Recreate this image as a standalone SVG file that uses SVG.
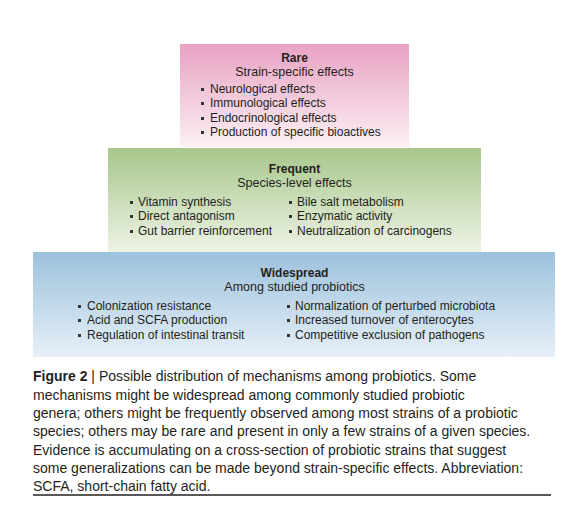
<svg xmlns="http://www.w3.org/2000/svg" width="581" height="524" viewBox="0 0 581 524">
<defs>
<linearGradient id="gPink" x1="0" y1="0" x2="0" y2="1"><stop offset="0" stop-color="#e8a2c2"/><stop offset="1" stop-color="#fcf0f5"/></linearGradient>
<linearGradient id="gGreen" x1="0" y1="0" x2="0" y2="1"><stop offset="0" stop-color="#a7c78c"/><stop offset="1" stop-color="#eef3e5"/></linearGradient>
<linearGradient id="gBlue" x1="0" y1="0" x2="0" y2="1"><stop offset="0" stop-color="#9cc1dc"/><stop offset="1" stop-color="#e7f0f8"/></linearGradient>
</defs>
<style>
text{font-family:"Liberation Sans",Arial,sans-serif;fill:#231f20;}
.t{font-size:12px;font-weight:bold;text-anchor:middle;}
.s{font-size:12.5px;text-anchor:middle;}
.b{font-size:12px;}
.c{font-size:14px;}
.bl{fill:#333;}
</style>
<rect width="581" height="524" fill="#fff"/>
<g id="rare">
<rect x="180" y="44" width="229" height="103" fill="url(#gPink)"/>
<text class="t" x="294.5" y="62">Rare</text>
<text class="s" x="294.5" y="76">Strain-specific effects</text>
<rect class="bl" x="201" y="88" width="3" height="3"/><text class="b" x="210" y="93">Neurological effects</text>
<rect class="bl" x="201" y="102" width="3" height="3"/><text class="b" x="210" y="107">Immunological effects</text>
<rect class="bl" x="201" y="117" width="3" height="3"/><text class="b" x="210" y="122">Endocrinological effects</text>
<rect class="bl" x="201" y="131" width="3" height="3"/><text class="b" x="210" y="136">Production of specific bioactives</text>
</g>
<g id="frequent">
<rect x="108" y="148" width="373" height="104" fill="url(#gGreen)"/>
<text class="t" x="294.5" y="173">Frequent</text>
<text class="s" x="294.5" y="187">Species-level effects</text>
<rect class="bl" x="130" y="201" width="3" height="3"/><text class="b" x="138" y="206">Vitamin synthesis</text>
<rect class="bl" x="130" y="215" width="3" height="3"/><text class="b" x="138" y="220">Direct antagonism</text>
<rect class="bl" x="130" y="230" width="3" height="3"/><text class="b" x="138" y="235">Gut barrier reinforcement</text>
<rect class="bl" x="289" y="201" width="3" height="3"/><text class="b" x="297" y="206">Bile salt metabolism</text>
<rect class="bl" x="289" y="215" width="3" height="3"/><text class="b" x="297" y="220">Enzymatic activity</text>
<rect class="bl" x="289" y="230" width="3" height="3"/><text class="b" x="297" y="235">Neutralization of carcinogens</text>
</g>
<g id="widespread">
<rect x="33" y="252" width="522" height="105" fill="url(#gBlue)"/>
<text class="t" x="294.5" y="277">Widespread</text>
<text class="s" x="294.5" y="291">Among studied probiotics</text>
<rect class="bl" x="78" y="305" width="3" height="3"/><text class="b" x="87" y="310">Colonization resistance</text>
<rect class="bl" x="78" y="319" width="3" height="3"/><text class="b" x="87" y="324">Acid and SCFA production</text>
<rect class="bl" x="78" y="334" width="3" height="3"/><text class="b" x="87" y="339">Regulation of intestinal transit</text>
<rect class="bl" x="287" y="305" width="3" height="3"/><text class="b" x="295" y="310">Normalization of perturbed microbiota</text>
<rect class="bl" x="287" y="319" width="3" height="3"/><text class="b" x="295" y="324">Increased turnover of enterocytes</text>
<rect class="bl" x="287" y="334" width="3" height="3"/><text class="b" x="295" y="339">Competitive exclusion of pathogens</text>
</g>
<g id="caption">
<text class="c" x="33" y="381"><tspan font-weight="bold">Figure 2</tspan> | Possible distribution of mechanisms among probiotics. Some</text>
<text class="c" x="33" y="399.5">mechanisms might be widespread among commonly studied probiotic</text>
<text class="c" x="33" y="418">genera; others might be frequently observed among most strains of a probiotic</text>
<text class="c" x="33" y="436">species; others may be rare and present in only a few strains of a given species.</text>
<text class="c" x="33" y="454.5">Evidence is accumulating on a cross-section of probiotic strains that suggest</text>
<text class="c" x="33" y="472.5">some generalizations can be made beyond strain-specific effects. Abbreviation:</text>
<text class="c" x="33" y="491">SCFA, short-chain fatty acid.</text>
<line x1="33" y1="495" x2="551" y2="495" stroke="#231f20" stroke-width="1.5"/>
</g>
</svg>
